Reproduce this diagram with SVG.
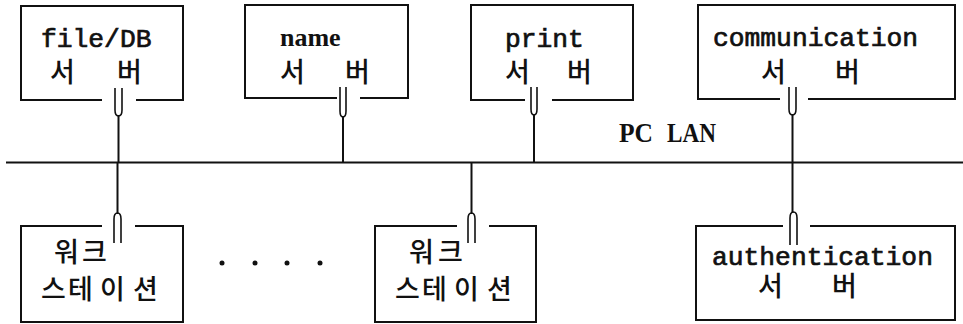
<svg xmlns="http://www.w3.org/2000/svg" width="963" height="324" viewBox="0 0 963 324">
<style>
.box{fill:none;stroke:#111;stroke-width:2}
.ln{fill:none;stroke:#111;stroke-width:2}
.fork{fill:none;stroke:#111;stroke-width:1.6}
.mono{font-family:"Liberation Mono","Courier New",monospace;font-size:26.3px;fill:#111;stroke:#111;stroke-width:0.7}
.ser{font-family:"Liberation Serif","Times New Roman",serif;font-weight:bold;fill:#111}
.ko{font-family:"Noto Sans CJK KR","Noto Sans",sans-serif;font-size:27px;font-weight:500;fill:#111}
.ws{font-size:27px}
</style>
<rect width="963" height="324" fill="#fff"/>
<g id="connectors">
<path class="ln" d="M6,162.5 H963"/>
<path class="fork" d="M115,88 V110 Q115,116 118.5,116 Q122,116 122,110 V88"/>
<path class="ln" d="M118.5,115 V163"/>
<path class="fork" d="M340,87 V111 Q340,117 343,117 Q346,117 346,111 V87"/>
<path class="ln" d="M343,116 V163"/>
<path class="fork" d="M531,87 V109 Q531,115 534,115 Q537,115 537,109 V87"/>
<path class="ln" d="M534,114 V163"/>
<path class="fork" d="M789,87 V109 Q789,115 792.5,115 Q796,115 796,109 V87"/>
<path class="ln" d="M792.5,114 V213"/>
<path class="fork" d="M790,245 V218 Q790,212 793.5,212 Q797,212 797,218 V245"/>
<path class="ln" d="M117.5,162 V214"/>
<path class="fork" d="M114,243 V219 Q114,213 117.5,213 Q121,213 121,219 V243"/>
<path class="ln" d="M471.5,162 V214"/>
<path class="fork" d="M468,243 V219 Q468,213 471.5,213 Q475,213 475,219 V243"/>
</g>
<g id="fileDB">
<path class="box" d="M102,100 H21 V6 H183 V100 H136"/>
<text class="mono" x="41" y="47">file/DB</text>
<text class="ko" y="82"><tspan x="50">서</tspan><tspan x="117">버</tspan></text>
</g>
<g id="name">
<path class="box" d="M337,98 H245 V5 H408 V98 H360"/>
<text class="ser" x="280" y="46" font-size="26">name</text>
<text class="ko" y="82"><tspan x="280">서</tspan><tspan x="345">버</tspan></text>
</g>
<g id="print">
<path class="box" d="M525,100 H471 V5 H633 V100 H552"/>
<text class="mono" x="505" y="47">print</text>
<text class="ko" y="82"><tspan x="505">서</tspan><tspan x="567">버</tspan></text>
</g>
<g id="communication">
<path class="box" d="M780,99 H698 V5 H955 V99 H808"/>
<text class="mono" x="713" y="46">communication</text>
<text class="ko" y="82"><tspan x="761">서</tspan><tspan x="835">버</tspan></text>
</g>
<g id="lan-label">
<text class="ser" y="142" font-size="27"><tspan x="619" textLength="34" lengthAdjust="spacingAndGlyphs">PC</tspan><tspan x="667" textLength="49" lengthAdjust="spacingAndGlyphs">LAN</tspan></text>
</g>
<g id="workstation1">
<path class="box" d="M102,226 H21 V322 H183 V226 H135"/>
<text class="ko ws" y="262"><tspan x="54">워</tspan><tspan x="82">크</tspan></text>
<text class="ko ws" y="299"><tspan x="41">스</tspan><tspan x="68">테</tspan><tspan x="100">이</tspan><tspan x="133">션</tspan></text>
</g>
<g id="ellipsis">
<circle cx="222" cy="263" r="2.5" fill="#111"/>
<circle cx="255" cy="263" r="2.5" fill="#111"/>
<circle cx="287" cy="263" r="2.5" fill="#111"/>
<circle cx="320" cy="263" r="2.5" fill="#111"/>
</g>
<g id="workstation2">
<path class="box" d="M457,226 H375 V322 H536 V226 H489"/>
<text class="ko ws" y="262"><tspan x="409">워</tspan><tspan x="438">크</tspan></text>
<text class="ko ws" y="299"><tspan x="395">스</tspan><tspan x="422">테</tspan><tspan x="454">이</tspan><tspan x="487">션</tspan></text>
</g>
<g id="authentication">
<path class="box" d="M783,226 H696 V320 H955 V226 H810"/>
<text class="mono" x="712" y="265">authentication</text>
<text class="ko" y="296" font-size="26"><tspan x="758">서</tspan><tspan x="832">버</tspan></text>
</g>
</svg>
